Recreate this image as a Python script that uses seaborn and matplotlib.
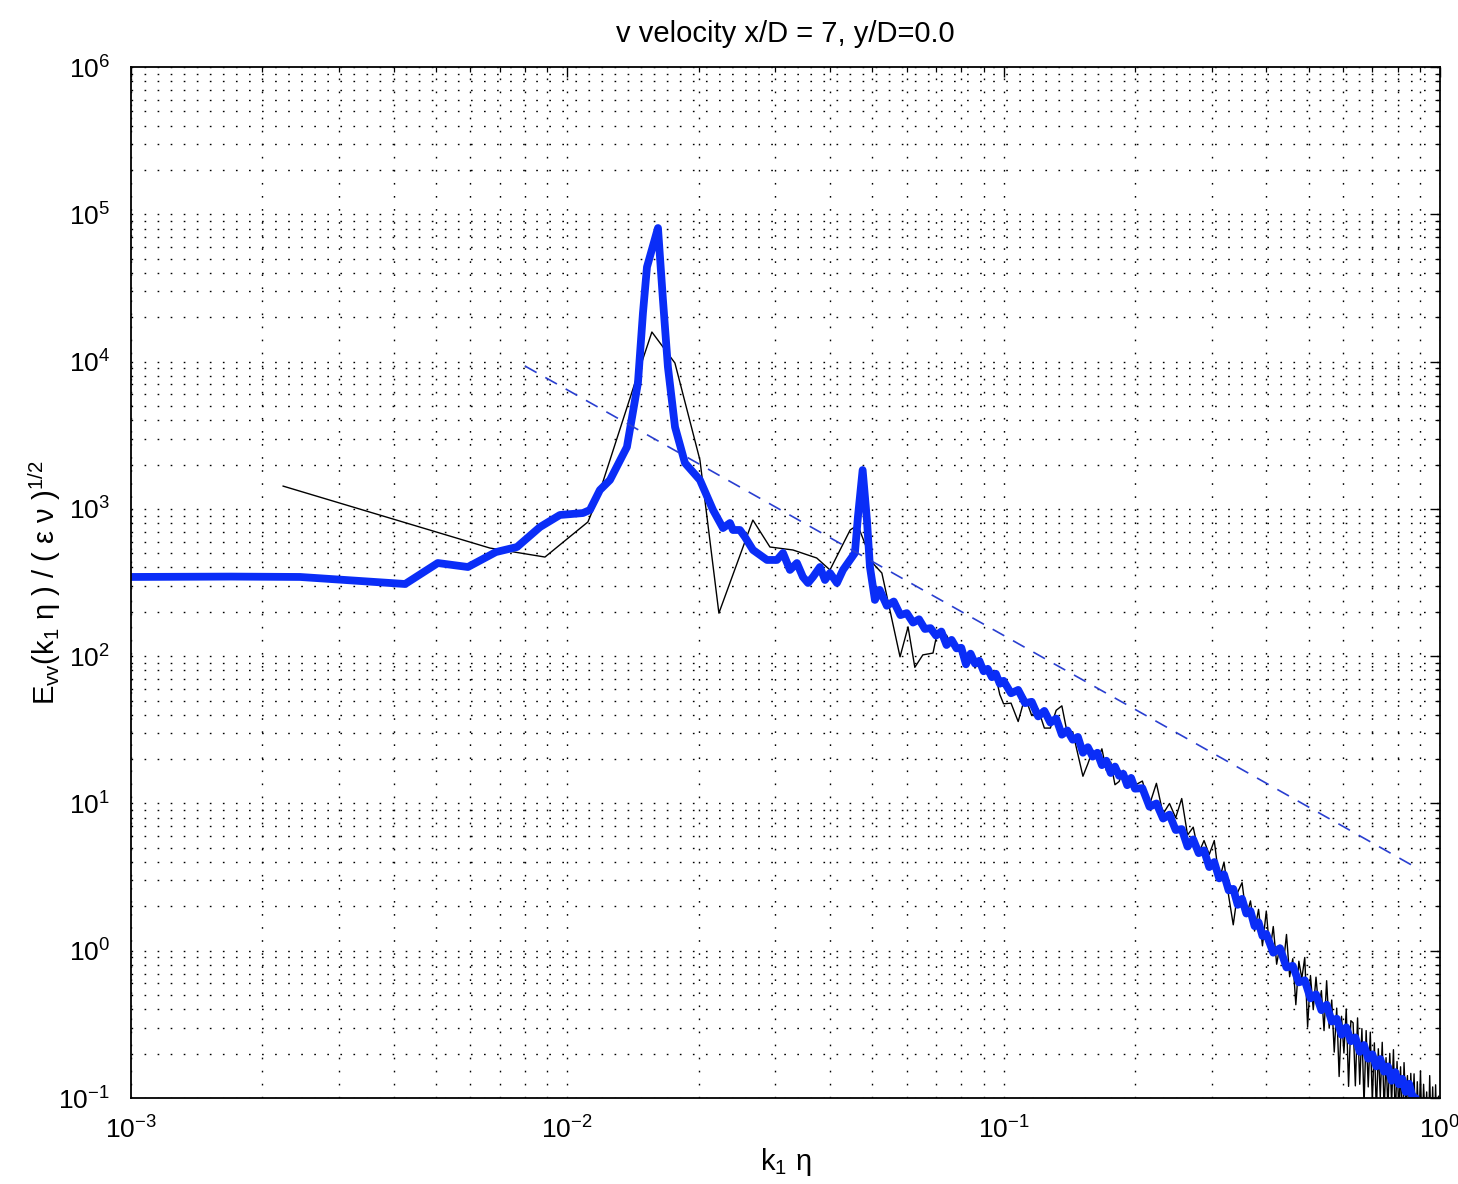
import numpy as np
import pandas as pd
import matplotlib
matplotlib.use("Agg")
import matplotlib.pyplot as plt
import seaborn as sns
from matplotlib.ticker import LogLocator, NullFormatter, LogFormatterSciNotation

# ---------------- data ----------------
# thick blue spectrum
blue_k_low = [0.0010, 0.0017, 0.00244, 0.00425, 0.00505, 0.00592, 0.00686, 0.00767, 0.00866,
              0.00962, 0.01086, 0.01127, 0.01188, 0.01253, 0.0137, 0.01452, 0.01491, 0.01523,
              0.01614, 0.01657, 0.01701, 0.01766, 0.01861, 0.02014, 0.02158, 0.02274, 0.0236,
              0.02397, 0.02487, 0.02554, 0.02665, 0.02869, 0.03024, 0.03122, 0.03239, 0.0336,
              0.03468, 0.03562, 0.03657, 0.03794, 0.03896, 0.0400, 0.0415, 0.04285, 0.04447,
              0.04563, 0.04636, 0.04753, 0.04862, 0.0494, 0.05071]
blue_E_low = [345, 347, 345, 309, 429, 403, 509, 551, 753,
              909, 937, 983, 1343, 1571, 2630, 7160, 21370, 43860,
              80700, 26180, 9190, 3595, 2049, 1571, 983, 741, 802,
              719, 719, 644, 526, 450, 450, 502, 385, 429,
              345, 314, 345, 403, 329, 367, 314, 385, 450,
              502, 881, 1836, 840, 403, 241]

blue_k_mid = [0.052, 0.054, 0.056, 0.058, 0.060, 0.062, 0.064, 0.066, 0.068, 0.070, 0.072, 0.074,
              0.076, 0.078, 0.080, 0.082, 0.084, 0.086, 0.088, 0.090, 0.092, 0.094, 0.096, 0.098, 0.100]
blue_E_mid = [282, 220, 235, 190, 196, 169, 178, 153, 155, 138, 147, 119,
              129, 113, 114, 88, 104, 89, 93, 79, 82, 72, 76, 65, 68]

blue_k_hi1 = [0.104, 0.108, 0.112, 0.116, 0.120, 0.124, 0.128, 0.132, 0.136, 0.140, 0.144, 0.148,
              0.152, 0.156, 0.160, 0.164, 0.168, 0.172, 0.176, 0.180, 0.184, 0.188, 0.192, 0.196, 0.200]
blue_E_hi1 = [56, 59, 48, 49, 39, 42.5, 35.4, 37.7, 29.3, 31.3, 27.1, 28.3,
              22.1, 24.1, 20.8, 22.1, 18.2, 19.5, 16.1, 17.8, 15.4, 15.9, 13.3, 14.9, 12.6]

blue_k_hi2 = [0.208, 0.216, 0.224, 0.232, 0.240, 0.248, 0.256, 0.264, 0.272, 0.280, 0.288, 0.296,
              0.304, 0.312, 0.320, 0.328, 0.336, 0.344, 0.352, 0.360, 0.368, 0.376, 0.384, 0.392, 0.400]
blue_E_hi2 = [12.7, 9.5, 10.0, 7.9, 8.4, 6.6, 6.7, 5.1, 5.7, 4.6, 4.8, 3.7,
              4.0, 3.1, 3.3, 2.57, 2.63, 2.05, 2.25, 1.79, 1.86, 1.47, 1.56, 1.26, 1.30]

blue_k_hi3 = [0.415, 0.430, 0.445, 0.460, 0.475, 0.490, 0.505, 0.520, 0.535, 0.550, 0.565, 0.580,
              0.595, 0.610, 0.625, 0.640, 0.655, 0.670, 0.685, 0.700, 0.715, 0.730, 0.745, 0.760,
              0.775, 0.790, 0.805, 0.820, 0.835, 0.850, 0.865, 0.880, 0.895, 0.910, 0.925, 0.940,
              0.955, 0.970, 0.985, 1.000]
blue_E_hi3 = [0.97, 1.04, 0.77, 0.79, 0.61, 0.63, 0.475, 0.506, 0.395, 0.43, 0.331, 0.346,
              0.269, 0.302, 0.243, 0.258, 0.206, 0.229, 0.185, 0.198, 0.164, 0.184, 0.151, 0.164,
              0.131, 0.150, 0.124, 0.135, 0.110, 0.125, 0.102, 0.100, 0.088, 0.092, 0.080, 0.085,
              0.076, 0.079, 0.072, 0.073]

# thin black spectrum
black_k_low = [0.00223, 0.00665, 0.00889, 0.01115, 0.01170, 0.01429, 0.01563, 0.01765, 0.02014,
               0.02226, 0.02663, 0.02914, 0.0329, 0.0373, 0.0400, 0.0445, 0.0463, 0.0501,
               0.0526, 0.0579, 0.0604, 0.0626, 0.0653, 0.0689, 0.0703]
black_E_low = [1429, 542, 471, 815, 1148, 7160, 15880, 9780, 2147,
               196, 840, 551, 526, 464, 385, 719, 776, 429,
               367, 99, 158, 84, 102, 105, 140]

black_k_mid = [0.072, 0.074, 0.076, 0.078, 0.080, 0.082, 0.084, 0.086, 0.088, 0.090, 0.092, 0.094,
               0.096, 0.098, 0.100]
black_E_mid = [139, 139, 118, 121, 99, 88, 101, 83, 93, 78, 86, 71, 73, 55, 47.5]

black_k_hi1 = [0.104, 0.108, 0.112, 0.116, 0.120, 0.124, 0.128, 0.132, 0.136, 0.140, 0.144, 0.148,
               0.152, 0.156, 0.160, 0.164, 0.168, 0.172, 0.176, 0.180, 0.184, 0.188, 0.192, 0.196, 0.200]
black_E_hi1 = [48, 36, 53, 39.5, 43.8, 32.5, 32.5, 42.9, 46, 29.8, 30.7, 21.5,
               15.3, 18.6, 23.0, 19.7, 23.5, 16.7, 19.1, 13.4, 14.1, 16.8, 13.8, 15.6, 13.3]

black_k_hi2 = [0.208, 0.216, 0.224, 0.232, 0.240, 0.248, 0.256, 0.264, 0.272, 0.280, 0.288, 0.296,
               0.304, 0.312, 0.320, 0.328, 0.336, 0.344, 0.352, 0.360, 0.368, 0.376, 0.384, 0.392, 0.400]
black_E_hi2 = [14.2, 9.8, 13.7, 8.5, 10.0, 8.0, 10.8, 6.1, 6.9, 4.6, 5.6, 4.5,
               5.6, 3.0, 4.0, 2.35, 1.5, 2.5, 2.9, 1.71, 2.18, 1.36, 1.91, 1.08, 1.86]

black_k_hi3 = [0.4075, 0.415, 0.4225, 0.430, 0.4375, 0.445, 0.4525, 0.460, 0.4675, 0.475,
               0.4825, 0.490, 0.4975, 0.505, 0.5125, 0.520, 0.5275, 0.535, 0.5425, 0.550,
               0.5575, 0.565, 0.5725, 0.580, 0.5875, 0.595, 0.6025, 0.610, 0.6175, 0.625,
               0.6325, 0.640, 0.6475, 0.655, 0.6625, 0.670, 0.6775, 0.685, 0.6925, 0.700,
               0.7075, 0.715, 0.7225, 0.730, 0.7375, 0.745, 0.7525, 0.760, 0.7675, 0.775,
               0.7825, 0.790, 0.7975, 0.805, 0.8125, 0.820, 0.8275, 0.835, 0.8425, 0.850,
               0.8575, 0.865, 0.8725, 0.880, 0.8875, 0.895, 0.9025, 0.910, 0.9175, 0.925,
               0.9325, 0.940, 0.9475, 0.955, 0.9625, 0.970, 0.9775, 0.985, 0.9925, 1.000]
black_E_hi3 = [0.98, 1.46, 0.81, 1.09, 0.80, 1.29, 0.666, 0.883, 0.43, 0.849,
               0.648, 0.90, 0.303, 0.679, 0.398, 0.662, 0.405, 0.536, 0.287, 0.626,
               0.298, 0.463, 0.205, 0.408, 0.140, 0.359, 0.202, 0.402, 0.120, 0.335,
               0.324, 0.121, 0.350, 0.124, 0.296, 0.089, 0.287, 0.119, 0.280, 0.094,
               0.237, 0.080, 0.216, 0.101, 0.239, 0.081, 0.188, 0.084, 0.201, 0.091,
               0.213, 0.070, 0.177, 0.080, 0.163, 0.057, 0.174, 0.085, 0.142, 0.058,
               0.147, 0.072, 0.146, 0.053, 0.129, 0.061, 0.153, 0.054, 0.124, 0.066,
               0.110, 0.045, 0.142, 0.052, 0.119, 0.046, 0.123, 0.048, 0.103, 0.039]

# -5/3 reference slope (dashed)
slope_k = [0.0080, 0.90]
slope_E = [9330, 3.55]

title_text = "v velocity x/D = 7, y/D=0.0"
xlabel_text = r"$\mathregular{k_1\ η}$"
ylabel_text = r"$\mathregular{E_{vv}(k_1\ η\ )\ /\ (\ ε\ ν\ )^{1/2}}$"

blue_df = pd.DataFrame({"k": blue_k_low + blue_k_mid + blue_k_hi1 + blue_k_hi2 + blue_k_hi3,
                        "E": blue_E_low + blue_E_mid + blue_E_hi1 + blue_E_hi2 + blue_E_hi3})
black_df = pd.DataFrame({"k": black_k_low + black_k_mid + black_k_hi1 + black_k_hi2 + black_k_hi3,
                         "E": black_E_low + black_E_mid + black_E_hi1 + black_E_hi2 + black_E_hi3})
slope_df = pd.DataFrame({"k": slope_k, "E": slope_E})

# ---------------- style ----------------
sns.set_style("white")
plt.rcParams["font.family"] = ["Liberation Sans", "DejaVu Sans"]
plt.rcParams["mathtext.fontset"] = "custom"
plt.rcParams["mathtext.rm"] = "Liberation Sans"
plt.rcParams["mathtext.it"] = "Liberation Sans:italic"
plt.rcParams["mathtext.bf"] = "Liberation Sans:bold"
plt.rcParams["mathtext.default"] = "regular"
plt.rcParams["text.color"] = "black"
plt.rcParams["axes.labelcolor"] = "black"
plt.rcParams["xtick.color"] = "black"
plt.rcParams["ytick.color"] = "black"

fig = plt.figure(figsize=(14.58, 11.84), dpi=100)
ax = fig.add_axes([0.0898, 0.0726, 0.8978, 0.8708])
ax.set_xscale("log")
ax.set_yscale("log")

sns.lineplot(data=black_df, x="k", y="E", ax=ax, color="black", linewidth=1.0,
             estimator=None, sort=False)
sns.lineplot(data=blue_df, x="k", y="E", ax=ax, color="#0a2df7", linewidth=5.6,
             estimator=None, sort=False)
sns.lineplot(data=slope_df, x="k", y="E", ax=ax, color="#2a3fd0", linewidth=1.2,
             linestyle=(0, (8, 6)), estimator=None, sort=False)

ax.set_xlim(1e-3, 1e0)
ax.set_ylim(1e-1, 1e6)

for axis in (ax.xaxis, ax.yaxis):
    axis.set_major_locator(LogLocator(base=10, numticks=20))
    axis.set_minor_locator(LogLocator(base=10, subs=np.arange(2, 10), numticks=20))
    axis.set_minor_formatter(NullFormatter())
    axis.set_major_formatter(LogFormatterSciNotation())

ax.grid(True, which="both", color="black", linestyle=(0, (1.2, 8.2)), linewidth=1.0)
ax.set_axisbelow(True)
ax.tick_params(which="both", direction="in", top=True, right=True, color="black")
ax.tick_params(which="major", length=7, width=1.0, labelsize=19, labelcolor="black")
ax.tick_params(axis="x", which="major", pad=13)
ax.tick_params(axis="y", which="major", pad=15)
ax.tick_params(which="minor", length=3.6, width=0.9)
for s in ax.spines.values():
    s.set_visible(True)
    s.set_color("black")
    s.set_linewidth(1.3)

ax.set_title(title_text, fontsize=21, pad=18, color="black")
ax.set_xlabel(xlabel_text, fontsize=21, labelpad=2)
ax.set_ylabel(ylabel_text, fontsize=21, labelpad=-3)

fig.savefig("out.png", dpi=100)
